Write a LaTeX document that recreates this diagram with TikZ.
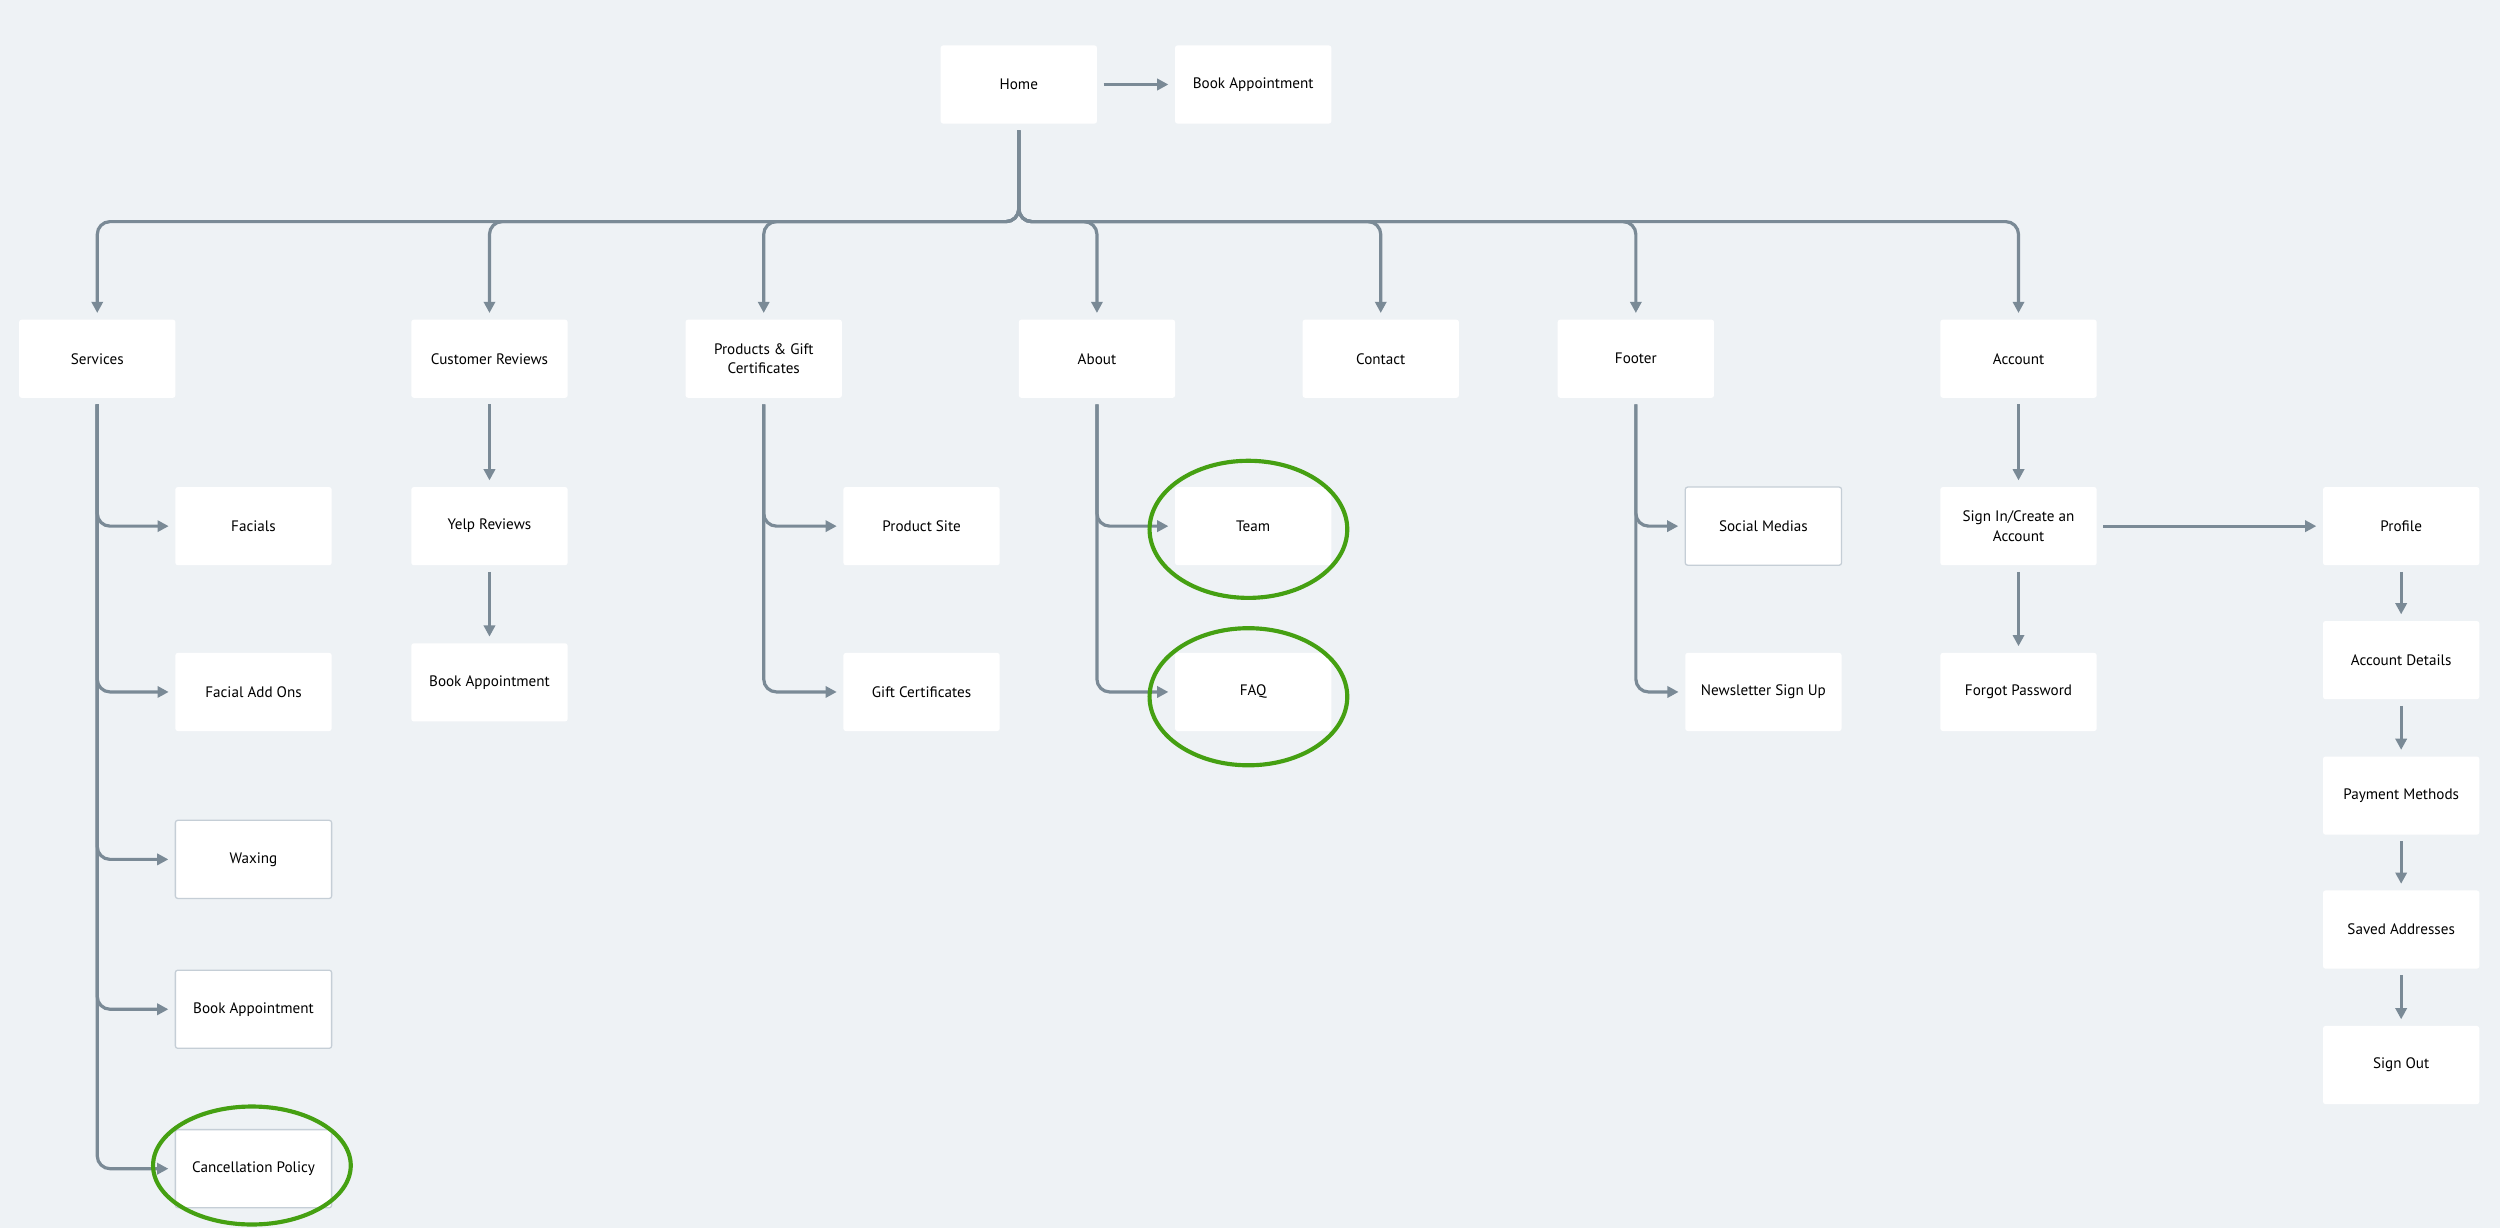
\documentclass[tikz,border=0pt]{standalone}
\usepackage{fontspec}
\setmainfont{PT Sans}
\usetikzlibrary{arrows.meta}
\definecolor{bg}{HTML}{EEF2F5}
\definecolor{ln}{HTML}{7A8A96}
\definecolor{gr}{HTML}{45A012}
\definecolor{bd}{HTML}{C5CED6}
\begin{document}
\begin{tikzpicture}[x=1pt,y=-1pt,
 box/.style={fill=white,minimum width=98pt,minimum height=49pt,align=center,font=\fontsize{9.5}{12}\selectfont,rounded corners=1.5pt},
 bbox/.style={box,draw=bd,line width=0.8pt},
 con/.style={draw=ln,line width=2pt,rounded corners=8pt,-{Triangle[length=7pt,width=7pt]},shorten >=4pt,shorten <=4pt},
 ring/.style={draw=gr,line width=2.6pt}]
\fill[bg] (0,0) rectangle (1568,770);
\useasboundingbox (0,0) rectangle (1568,770);
\node[box] (home) at (639,53) {Home};
\node[box] (book0) at (786,53) {Book Appointment};
\node[box] (serv) at (61,225) {Services};
\node[box] (cust) at (307,225) {Customer Reviews};
\node[box] (prod) at (479,225) {Products \& Gift\\Certificates};
\node[box] (about) at (688,225) {About};
\node[box] (contact) at (866,225) {Contact};
\node[box] (footer) at (1026,225) {Footer};
\node[box] (acct) at (1266,225) {Account};
\node[box] (fac) at (159,330) {Facials};
\node[box] (facadd) at (159,434) {Facial Add Ons};
\node[bbox] (wax) at (159,539) {Waxing};
\node[bbox] (book1) at (159,633) {Book Appointment};
\node[bbox] (cancel) at (159,733) {Cancellation Policy};
\node[box] (yelp) at (307,330) {Yelp Reviews};
\node[box] (book2) at (307,428) {Book Appointment};
\node[box] (psite) at (578,330) {Product Site};
\node[box] (gift) at (578,434) {Gift Certificates};
\node[box] (team) at (786,330) {Team};
\node[box] (faq) at (786,434) {FAQ};
\node[bbox] (social) at (1106,330) {Social Medias};
\node[box] (news) at (1106,434) {Newsletter Sign Up};
\node[box] (sign) at (1266,330) {Sign In/Create an\\Account};
\node[box] (forgot) at (1266,434) {Forgot Password};
\node[box] (prof) at (1506,330) {Profile};
\node[box] (adet) at (1506,414) {Account Details};
\node[box] (pay) at (1506,499) {Payment Methods};
\node[box] (saved) at (1506,583) {Saved Addresses};
\node[box] (out) at (1506,668) {Sign Out};
\coordinate (bus) at (639,139);
\draw[con] (home) -- (book0);
\foreach \t in {serv,cust,prod,about,contact,footer,acct}
  \draw[con] (home.south) |- (bus) -| (\t.north);
\foreach \t in {fac,facadd,wax,book1,cancel} \draw[con] (serv.south) |- (\t.west);
\draw[con] (cust) -- (yelp); \draw[con] (yelp) -- (book2);
\foreach \t in {psite,gift} \draw[con] (prod.south) |- (\t.west);
\foreach \t in {team,faq} \draw[con] (about.south) |- (\t.west);
\foreach \t in {social,news} \draw[con] (footer.south) |- (\t.west);
\draw[con] (acct) -- (sign); \draw[con] (sign) -- (forgot); \draw[con] (sign) -- (prof);
\draw[con] (prof) -- (adet); \draw[con] (adet) -- (pay); \draw[con] (pay) -- (saved); \draw[con] (saved) -- (out);
\draw[ring] (783,332) ellipse (62 and 43);
\draw[ring] (783,437) ellipse (62 and 43);
\draw[ring] (158,731) ellipse (62 and 37);
\end{tikzpicture}
\end{document}
